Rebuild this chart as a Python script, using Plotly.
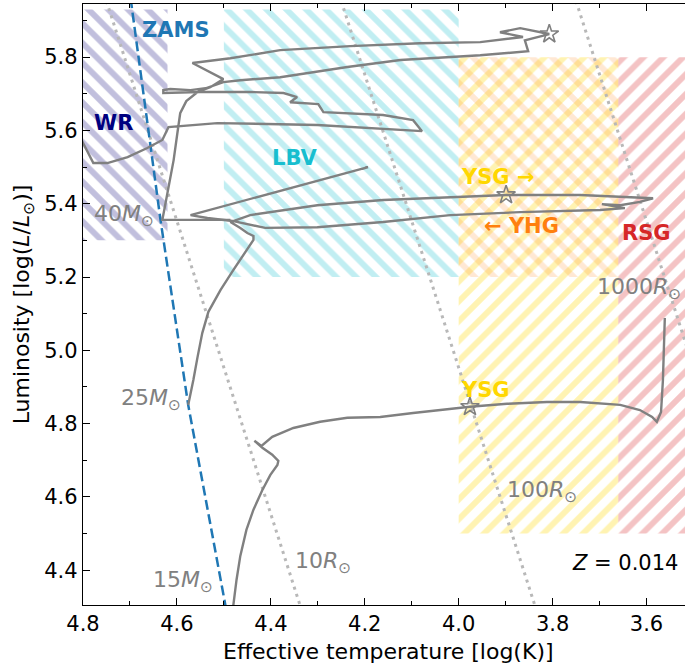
import plotly.graph_objects as go

FONT = "DejaVu Sans"

# ---- stellar evolution tracks: log Teff [K], log L/Lsun ----
m15_logT = [4.480, 4.473, 4.465, 4.452, 4.437, 4.418, 4.401, 4.386, 4.384, 4.397,
            4.418, 4.435, 4.420, 4.397, 4.352, 4.295, 4.237, 4.167, 4.097, 4.039,
            3.976, 3.897, 3.812, 3.741, 3.656, 3.614, 3.588, 3.578, 3.569, 3.565,
            3.563, 3.561]
m15_logL = [4.303, 4.374, 4.439, 4.510, 4.565, 4.619, 4.660, 4.687, 4.698, 4.715,
            4.734, 4.753, 4.739, 4.764, 4.788, 4.805, 4.816, 4.818, 4.829, 4.837,
            4.846, 4.854, 4.859, 4.859, 4.851, 4.837, 4.818, 4.805, 4.832, 4.919,
            5.001, 5.088]

m25_logT = [4.576, 4.571, 4.565, 4.556, 4.546, 4.533, 4.507, 4.480, 4.450, 4.437,
            4.437, 4.450, 4.465, 4.486, 4.444, 4.301, 4.161, 4.018, 3.899, 3.741,
            3.586, 3.614, 3.656, 3.695, 3.646, 3.699, 3.869, 4.018, 4.161, 4.301,
            4.412, 4.482, 4.535, 4.571, 4.193, 4.205]
m25_logL = [4.851, 4.878, 4.919, 4.982, 5.047, 5.105, 5.165, 5.219, 5.274, 5.301,
            5.312, 5.320, 5.334, 5.350, 5.369, 5.396, 5.410, 5.418, 5.424, 5.424,
            5.415, 5.405, 5.396, 5.399, 5.388, 5.383, 5.377, 5.369, 5.350, 5.336,
            5.334, 5.353, 5.361, 5.369, 5.500, 5.495]

m40_logT = [4.486, 4.631, 4.627, 4.618, 4.607, 4.599, 4.593, 4.580, 4.556, 4.529,
            4.501, 4.567, 4.486, 4.380, 4.231, 4.082, 3.954, 3.863, 3.912, 3.869,
            3.807, 3.859, 3.852, 3.954, 4.124, 4.237, 4.380, 4.465, 4.501, 4.539,
            4.571, 4.614, 4.629, 4.629, 4.550, 4.444, 4.373, 4.344, 4.359, 4.299,
            4.288, 4.161, 4.097, 4.078, 4.167, 4.301, 4.514, 4.593, 4.618, 4.631,
            4.663, 4.705, 4.748, 4.778, 4.799, 4.816]
m40_logL = [5.356, 5.356, 5.383, 5.445, 5.519, 5.593, 5.647, 5.680, 5.705, 5.718,
            5.740, 5.784, 5.797, 5.819, 5.830, 5.838, 5.841, 5.855, 5.868, 5.879,
            5.863, 5.846, 5.816, 5.805, 5.792, 5.773, 5.745, 5.737, 5.732, 5.715,
            5.710, 5.713, 5.710, 5.702, 5.705, 5.705, 5.702, 5.691, 5.677, 5.672,
            5.650, 5.642, 5.628, 5.598, 5.604, 5.615, 5.620, 5.612, 5.609, 5.574,
            5.552, 5.527, 5.511, 5.511, 5.565, 5.606]

# star symbols along each track
star_logT = [3.807, 3.899, 3.976]
star_logL = [5.863, 5.424, 4.846]

# zero-age main sequence
zams_logT = [4.703, 4.697, 4.635, 4.576, 4.497, 4.489]
zams_logL = [6.000, 5.945, 5.356, 4.851, 4.306, 4.250]

# lines of constant radius (end points)
r10_logT = [4.750, 4.335]
r10_logL = [5.953, 4.293]
r100_logT = [4.250, 3.835]
r100_logL = [5.953, 4.293]
r1000_logT = [3.750, 3.500]
r1000_logL = [5.953, 4.953]

# classification regions
reg_names = ["WR", "LBV", "YSG", "YHG", "RSG"]
reg_T0 = [4.62, 4.00, 3.66, 3.66, 3.40]
reg_T1 = [4.90, 4.50, 4.00, 4.00, 3.66]
reg_L0 = [5.30, 5.20, 4.50, 5.20, 4.50]
reg_L1 = [5.93, 5.93, 5.80, 5.80, 5.80]
reg_colors = ["rgba(117,112,179,0.45)", "rgba(23,190,207,0.27)", "rgba(255,215,0,0.30)",
              "rgba(255,127,14,0.18)", "rgba(214,39,40,0.28)"]
reg_hatch = ["\\", "\\", "/", "\\", "/"]

fig = go.Figure()

for name, t0, t1, l0, l1, c, h in zip(reg_names, reg_T0, reg_T1, reg_L0, reg_L1,
                                      reg_colors, reg_hatch):
    fig.add_trace(go.Scatter(
        x=[t0, t1, t1, t0, t0], y=[l0, l0, l1, l1, l0],
        mode="lines", line=dict(width=0), fill="toself",
        fillcolor="rgba(0,0,0,0)",
        fillpattern=dict(shape=h, fgcolor=c, bgcolor="rgba(0,0,0,0)",
                         size=14, solidity=0.42, fillmode="replace"),
        hoverinfo="skip", showlegend=False, name=name))

dot_style = dict(color="#b8b8b8", width=3, dash="3px,4.5px")
for tx, ty in [(r10_logT, r10_logL), (r100_logT, r100_logL), (r1000_logT, r1000_logL)]:
    fig.add_trace(go.Scatter(x=tx, y=ty, mode="lines", line=dot_style,
                             hoverinfo="skip", showlegend=False))

fig.add_trace(go.Scatter(x=zams_logT, y=zams_logL, mode="lines",
                         line=dict(color="#1f77b4", width=2.5, dash="10px,4.5px"),
                         hoverinfo="skip", showlegend=False))

for tx, ty in [(m15_logT, m15_logL), (m25_logT, m25_logL), (m40_logT, m40_logL)]:
    fig.add_trace(go.Scatter(x=tx, y=ty, mode="lines",
                             line=dict(color="#808080", width=2.4),
                             hoverinfo="skip", showlegend=False))

fig.add_trace(go.Scatter(x=star_logT, y=star_logL, mode="markers",
                         marker=dict(symbol="star-open", size=14, color="#808080",
                                     line=dict(width=1.6, color="#808080")),
                         hoverinfo="skip", showlegend=False))


def label(x, y, text, color, size, bold=False, xanchor="center"):
    fig.add_annotation(x=x, y=y, text=text,
                       showarrow=False, xanchor=xanchor, yanchor="middle",
                       font=dict(family=FONT, size=size, color=color,
                                 weight="bold" if bold else "normal"))


label(4.603, 5.874, "ZAMS", "#1f77b4", 21, True)
label(4.735, 5.621, "WR", "#000080", 21, True)
label(4.348, 5.525, "LBV", "#17becf", 21, True)
label(3.999, 5.473, "YSG →", "#ffd700", 21, True, "left")
label(3.867, 5.339, "← YHG", "#ff7f0e", 21, True)
label(3.599, 5.320, "RSG", "#d62728", 21, True)
label(3.999, 4.893, "YSG", "#ffd700", 21, True, "left")

sun = "<sub>⊙</sub>"
label(4.645, 5.369, f"40<i>M</i>{sun}", "#808080", 22, xanchor="right")
label(4.586, 4.865, f"25<i>M</i>{sun}", "#808080", 22, xanchor="right")
label(4.518, 4.368, f"15<i>M</i>{sun}", "#808080", 22, xanchor="right")
label(4.288, 4.420, f"10<i>R</i>{sun}", "#808080", 22)
label(3.822, 4.616, f"100<i>R</i>{sun}", "#808080", 22)
label(3.522, 5.170, f"1000<i>R</i>{sun}", "#808080", 22, xanchor="right")
label(3.529, 4.420, "<i>Z</i> = 0.014", "black", 21, xanchor="right")

# x-axis title, centred on the full temperature span down to log T = 3.5
fig.add_annotation(xref="paper", yref="paper", x=0.5075, y=-0.077,
                   text="Effective temperature [log(K)]", showarrow=False,
                   xanchor="center", yanchor="middle",
                   font=dict(family=FONT, size=22, color="black"))

fig.update_layout(
    width=685, height=669,
    margin=dict(l=83, r=0, t=4, b=64),
    plot_bgcolor="white", paper_bgcolor="white",
    font=dict(family=FONT, size=21, color="black"),
    showlegend=False,
)
fig.update_xaxes(
    range=[4.8, 3.518], autorange=False,
    showline=True, linecolor="black", linewidth=1.3, mirror="ticks",
    ticks="inside", ticklen=7, tickwidth=1.3, tickcolor="black",
    tick0=4.0, dtick=0.2, tickformat=".1f",
    minor=dict(dtick=0.1, ticks="inside", ticklen=4, tickwidth=1, tickcolor="black"),
    showgrid=False, zeroline=False, automargin=False,
    tickfont=dict(size=21),
)
fig.update_yaxes(
    range=[4.305, 5.945], autorange=False,
    showline=True, linecolor="black", linewidth=1.3, mirror=False,
    ticks="inside", ticklen=7, tickwidth=1.3, tickcolor="black",
    tick0=4.4, dtick=0.2, tickformat=".1f",
    minor=dict(dtick=0.1, ticks="inside", ticklen=4, tickwidth=1, tickcolor="black"),
    showgrid=False, zeroline=False, automargin=False,
    tickfont=dict(size=21),
    title=dict(text="Luminosity [log(<i>L</i>/<i>L</i><sub>⊙</sub>)]",
               font=dict(size=22), standoff=8),
)

fig.write_html("out.html")
